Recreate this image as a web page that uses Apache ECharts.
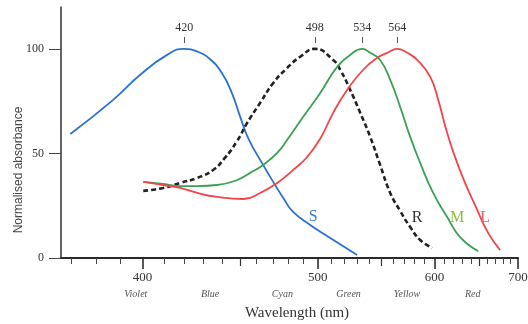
<!DOCTYPE html>
<html><head><meta charset="utf-8">
<script src="https://cdn.jsdelivr.net/npm/echarts@6/dist/echarts.min.js"></script>
<style>html,body{margin:0;padding:0;background:#fff}#c{width:528px;height:324px}</style>
</head><body><div id="c"></div>
<script>
// ---- data (wavelength in nm, normalised absorbance) ----
const wlS = [369.6, 387.1, 399.0, 411.6, 420.0, 427.0, 433.5, 439.9, 445.5, 450.2, 455.1, 463.9, 471.4, 476.6, 483.1, 494.7, 509.1, 529.8];
const absS = [59.3, 75.6, 87.6, 97.1, 100, 98.6, 95.0, 88.4, 78.8, 67.6, 57.0, 44.5, 34.9, 28.7, 22.0, 15.8, 9.6, 1.4];

const wlR = [400.4, 409.7, 418.0, 426.7, 435.1, 441.2, 448.5, 454.3, 462.1, 470.2, 479.2, 487.8, 498, 511.3, 516.6, 524.3, 532.3, 540.5, 548.9, 557.7, 566.7, 576.0, 585.6, 597.6];
const absR = [32.1, 33.5, 35.9, 38.3, 42.1, 47.5, 56.0, 64.6, 74.2, 83.7, 90.9, 96.2, 100, 94.7, 90.0, 80.4, 69.4, 57.9, 44.5, 31.1, 22.5, 14.8, 8.6, 4.8];

const wlM = [400.4, 409.7, 418.0, 426.7, 437.3, 448.5, 456.1, 463.9, 472.7, 479.2, 489.9, 501.8, 514.3, 524.3, 534, 540.5, 548.9, 557.7, 566.7, 576.0, 585.6, 598.6, 613.3, 627.5, 648.4];
const absM = [36.4, 35.4, 34.4, 34.4, 34.9, 37.3, 40.7, 44.5, 50.2, 56.5, 67.5, 78.9, 91.4, 97.1, 100, 98.1, 94.7, 85.2, 72.2, 57.9, 45.5, 31.1, 19.6, 10.0, 3.3];

const wlL = [400.4, 409.7, 418.0, 426.7, 437.3, 452.0, 462.1, 472.7, 483.1, 492.6, 501.8, 511.3, 522.0, 534.7, 546.4, 555.0, 564, 573.2, 582.7, 595.6, 603.8, 611.5, 620.0, 631.5, 645.0, 660.6, 675.9];
const absL = [36.4, 34.9, 33.5, 31.1, 29.2, 28.2, 31.1, 35.9, 42.1, 48.3, 57.0, 69.4, 80.4, 90.0, 95.7, 98.1, 100, 98.1, 94.7, 86.6, 75.6, 62.5, 50.5, 37.5, 25.0, 12.0, 3.8];

// curve name labels [wavelength, absorbance]
const seriesNames = ['S', 'R', 'M', 'L'];
const nameLabelWl = [496.8, 582.7, 624.2, 656.9];
const nameLabelAbs = [19.6, 19.1, 19.1, 19.1];

// axis ticks / labels
const majorTicks = [400, 500, 600, 700];
const mediumTicks = [450, 550, 650];
const minorTicks = [370,380,390,410,420,430,440,460,470,480,490,510,520,530,540,560,570,580,590,610,620,630,640,660,670,680,690];
const peakTicks = [420, 498, 534, 564];
const colourNames = ['Violet', 'Blue', 'Cyan', 'Green', 'Yellow', 'Red'];
const colourWl = [397, 433.5, 476, 523, 573, 642];
const yTicks = [0, 50, 100];

// ---- chart ----
const U = nm => 1000 / nm;          // wavenumber axis (reciprocal wavelength)
const toNm = u => 1000 / u;
const uMin = U(700), uMax = U(366);
const serif = 'Liberation Serif';

function xa(extra) {
  return Object.assign({
    type: 'value', min: uMin, max: uMax, inverse: true, position: 'bottom',
    splitLine: { show: false }, axisLine: { show: false },
    axisTick: { show: false }, axisLabel: { show: false }
  }, extra);
}
function pts(wl, ab) { return wl.map((w, i) => [U(w), ab[i]]); }

const colors = { S: '#2a72d2', R: '#222222', M: '#3aa053', L: '#f0464a' };
const labelColors = { S: '#3a7cc8', R: '#333333', M: '#8cbf3a', L: '#e8606a' };
const dataSets = { S: [wlS, absS], R: [wlR, absR], M: [wlM, absM], L: [wlL, absL] };

const series = seriesNames.map((n, i) => ({
  type: 'line', name: n, xAxisIndex: 0, yAxisIndex: 0,
  data: pts(dataSets[n][0], dataSets[n][1]),
  smooth: 0.5, showSymbol: false, silent: true,
  lineStyle: n === 'R'
    ? { color: colors[n], width: 2.6, type: [5, 3] }
    : { color: colors[n], width: 1.8 },
  markPoint: {
    symbol: 'circle', symbolSize: 0, silent: true,
    label: { show: true, position: 'inside', formatter: n, color: labelColors[n], fontFamily: serif, fontSize: 16 },
    data: [{ coord: [U(nameLabelWl[i]), nameLabelAbs[i]] }]
  }
}));

const chart = echarts.init(document.getElementById('c'), null, { renderer: 'canvas' });
chart.setOption({
  backgroundColor: '#ffffff',
  animation: false,
  grid: { left: 61, right: 10, top: 7, bottom: 66, containLabel: false, outerBoundsMode: 'none' },
  xAxis: [
    xa({
      axisLine: { show: true, lineStyle: { color: '#2a2a2a', width: 2 } },
      axisTick: { show: true, customValues: minorTicks.map(U), length: 6, lineStyle: { color: '#444', width: 1 } },
      axisLabel: { show: true, customValues: majorTicks.map(U), margin: 13, formatter: v => String(Math.round(toNm(v))),
        fontFamily: serif, fontSize: 13, color: '#333' },
      name: 'Wavelength (nm)', nameLocation: 'middle', nameGap: 48, nameMoveOverlap: false,
      nameTextStyle: { fontFamily: serif, fontSize: 15, color: '#333', padding: [0, 0, 0, 15] }
    }),
    xa({ axisTick: { show: true, customValues: mediumTicks.map(U), length: 8, lineStyle: { color: '#333', width: 1.2 } } }),
    xa({ axisTick: { show: true, customValues: majorTicks.map(U), length: 11, lineStyle: { color: '#222', width: 1.5 } } }),
    xa({
      axisLabel: { show: true, customValues: colourWl.map(U), margin: 31,
        formatter: v => { const nm = toNm(v); let k = 0, d = 1e9; colourWl.forEach((w, i) => { if (Math.abs(w - nm) < d) { d = Math.abs(w - nm); k = i; } }); return colourNames[k]; },
        fontFamily: serif, fontStyle: 'italic', fontSize: 10, color: '#555' }
    }),
    xa({
      position: 'top', offset: -36,
      axisTick: { show: true, customValues: peakTicks.map(U), length: 6, lineStyle: { color: '#555', width: 1 } },
      axisLabel: { show: true, customValues: peakTicks.map(U), margin: 9, formatter: v => String(Math.round(toNm(v))),
        fontFamily: serif, fontSize: 12, color: '#333' }
    })
  ],
  yAxis: [{
    type: 'value', min: 0, max: 120, position: 'left',
    splitLine: { show: false },
    axisLine: { show: true, lineStyle: { color: '#333', width: 1.5 } },
    axisTick: { show: true, customValues: yTicks, length: 12, lineStyle: { color: '#444', width: 1 } },
    axisLabel: { show: true, customValues: yTicks, margin: 17, fontFamily: serif, fontSize: 12, color: '#333' },
    name: 'Normalised absorbance', nameLocation: 'middle', nameGap: 36, nameRotate: 90, nameMoveOverlap: false,
    nameTextStyle: { fontFamily: 'Liberation Sans', fontSize: 12, color: '#444', padding: [0, 75, 0, 0] }
  }],
  series: series
});
</script></body></html>
